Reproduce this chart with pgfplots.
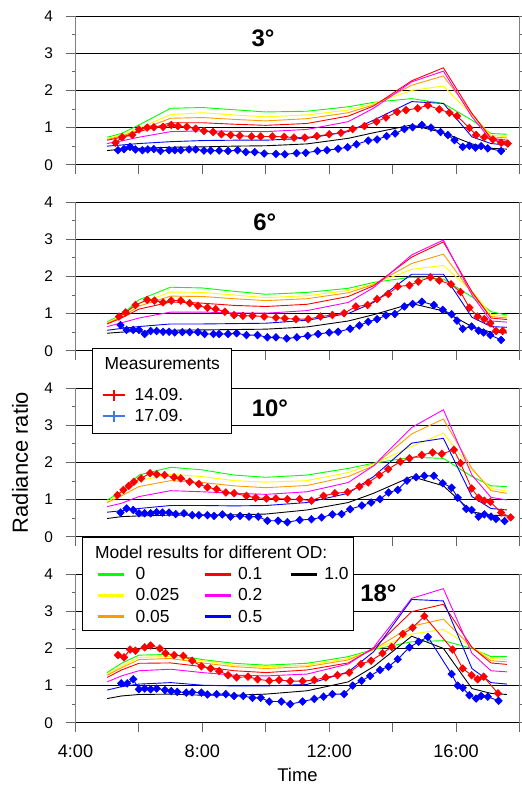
\documentclass[border=0pt]{standalone}
\usepackage{fontspec}
\setmainfont{Liberation Sans}
\usepackage{pgfplots}
\pgfplotsset{compat=1.18}
\usepackage{pgfplotstable}

\definecolor{mgreen}{RGB}{0,255,0}
\definecolor{myellow}{RGB}{255,255,0}
\definecolor{morange}{RGB}{255,153,0}
\definecolor{mred}{RGB}{255,0,0}
\definecolor{mmag}{RGB}{255,0,255}
\definecolor{mblue}{RGB}{0,0,255}
\definecolor{lblue}{RGB}{58,123,232}

% model results: t, OD 0, 0.025, 0.05, 0.1, 0.2, 0.5, 1.0
\pgfplotstableread{
t g y o r m b k
5.0 0.74 0.71 0.68 0.66 0.57 0.50 0.38
5.45 0.84 0.80 0.77 0.74 0.64 0.53 0.42
6.0 1.07 0.98 0.93 0.89 0.74 0.57 0.44
7.0 1.52 1.35 1.25 1.13 0.89 0.62 0.47
8.0 1.54 1.40 1.27 1.13 0.91 0.65 0.48
9.0 1.48 1.34 1.22 1.09 0.90 0.66 0.50
10.0 1.42 1.29 1.18 1.06 0.89 0.66 0.51
11.3 1.44 1.34 1.24 1.11 0.95 0.71 0.56
12.6 1.56 1.47 1.40 1.31 1.16 0.89 0.71
13.4 1.68 1.65 1.61 1.58 1.52 1.20 0.86
14.6 1.78 2.00 2.14 2.26 2.23 1.70 1.07
15.6 1.65 2.12 2.39 2.61 2.52 1.65 0.86
16.5 1.20 1.34 1.38 1.38 1.29 0.75 0.56
17.1 0.84 0.80 0.75 0.71 0.66 0.57 0.44
17.6 0.82 0.75 0.72 0.66 0.62 0.53 0.42
}\modelA
\pgfplotstableread{
t g y o r m b k
5.0 0.78 0.76 0.74 0.72 0.65 0.55 0.47
5.45 0.96 0.93 0.90 0.88 0.75 0.60 0.50
6.0 1.37 1.27 1.20 1.12 0.88 0.65 0.52
7.0 1.71 1.58 1.47 1.31 1.04 0.72 0.55
8.0 1.69 1.57 1.46 1.28 1.04 0.72 0.56
9.0 1.60 1.50 1.40 1.22 1.02 0.73 0.57
10.0 1.52 1.43 1.35 1.19 1.01 0.74 0.58
11.3 1.57 1.48 1.40 1.25 1.08 0.82 0.64
12.6 1.68 1.62 1.56 1.46 1.30 1.00 0.80
13.4 1.84 1.80 1.78 1.75 1.70 1.30 0.97
14.6 1.98 2.19 2.35 2.52 2.58 2.06 1.27
15.6 1.93 2.30 2.60 2.93 2.98 2.06 1.07
16.5 1.45 1.60 1.55 1.59 1.50 0.90 0.65
17.1 1.05 0.98 0.92 0.88 0.80 0.65 0.50
17.6 0.96 0.92 0.88 0.84 0.77 0.63 0.48
}\modelB
\pgfplotstableread{
t g y o m b k
5.0 0.99 0.94 0.92 0.81 0.66 0.49
5.45 1.21 1.17 1.10 0.90 0.70 0.54
6.0 1.66 1.51 1.35 1.08 0.76 0.56
7.0 1.87 1.68 1.51 1.24 0.84 0.58
8.0 1.80 1.62 1.46 1.21 0.84 0.58
9.0 1.66 1.51 1.37 1.17 0.83 0.59
10.0 1.60 1.47 1.32 1.14 0.84 0.61
11.3 1.66 1.51 1.38 1.21 0.92 0.72
12.6 1.84 1.73 1.62 1.46 1.17 0.92
13.4 1.98 1.96 1.91 1.91 1.62 1.17
14.6 2.14 2.43 2.77 2.94 2.52 1.62
15.6 2.11 2.79 3.17 3.42 2.65 1.37
16.5 1.62 1.80 1.84 1.66 1.08 0.67
17.1 1.37 1.30 1.24 1.06 0.76 0.58
17.6 1.35 1.23 1.17 0.99 0.72 0.56
}\modelC
\pgfplotstableread{
t g y o r m b k
5.0 1.35 1.31 1.28 1.22 1.10 0.88 0.65
5.45 1.60 1.52 1.48 1.42 1.26 0.97 0.72
6.0 1.82 1.76 1.70 1.60 1.40 1.04 0.76
7.0 1.84 1.78 1.73 1.61 1.44 1.08 0.77
8.0 1.70 1.67 1.61 1.51 1.35 1.01 0.74
9.0 1.60 1.55 1.51 1.40 1.28 0.99 0.74
10.0 1.55 1.51 1.46 1.35 1.26 0.99 0.77
11.3 1.60 1.55 1.51 1.42 1.31 1.03 0.86
12.6 1.78 1.73 1.69 1.61 1.58 1.37 1.10
13.4 1.97 1.97 1.97 2.00 2.03 1.91 1.51
14.6 2.18 2.39 2.60 2.99 3.35 3.32 2.33
15.6 2.21 2.51 2.79 3.19 3.61 3.28 2.00
16.5 2.00 2.03 2.03 2.03 1.87 1.46 0.92
17.1 1.78 1.73 1.67 1.61 1.40 1.08 0.79
17.6 1.78 1.70 1.64 1.57 1.37 1.04 0.76
}\modelD

% measurements
\pgfplotstableread{
t v
5.26 0.59
5.47 0.74
5.79 0.80
6.0 0.95
6.26 1.0
6.47 1.01
6.76 1.02
7.02 1.07
7.23 1.04
7.51 1.02
7.79 0.97
8.05 0.91
8.34 0.88
8.6 0.82
8.89 0.80
9.18 0.78
9.55 0.76
9.84 0.76
10.21 0.76
10.58 0.75
10.89 0.73
11.23 0.73
11.61 0.77
12.0 0.82
12.37 0.86
12.74 0.96
13.11 1.04
13.49 1.16
13.79 1.27
14.14 1.42
14.42 1.47
14.79 1.52
15.11 1.60
15.47 1.49
15.79 1.40
16.03 1.31
16.42 0.99
16.63 0.80
16.89 0.74
17.16 0.68
17.42 0.59
17.63 0.57
}\redA
\pgfplotstableread{
t v
5.34 0.39
5.53 0.42
5.72 0.48
5.89 0.41
6.11 0.39
6.28 0.41
6.47 0.42
6.68 0.37
6.95 0.39
7.13 0.39
7.32 0.39
7.58 0.41
7.79 0.41
8.05 0.38
8.26 0.38
8.53 0.38
8.81 0.37
9.11 0.39
9.37 0.34
9.65 0.34
9.95 0.30
10.32 0.29
10.6 0.28
10.97 0.31
11.26 0.32
11.63 0.37
11.93 0.39
12.28 0.43
12.58 0.47
12.86 0.55
13.23 0.65
13.51 0.68
13.81 0.77
14.08 0.84
14.37 0.96
14.63 1.01
14.92 1.07
15.21 1.00
15.51 0.88
15.74 0.80
15.95 0.66
16.21 0.48
16.42 0.51
16.61 0.46
16.79 0.50
17.0 0.44
17.42 0.37
}\blueA
\pgfplotstableread{
t v
5.37 0.92
5.58 1.03
5.89 1.23
6.26 1.37
6.49 1.35
6.76 1.30
7.02 1.35
7.32 1.35
7.6 1.28
7.86 1.21
8.16 1.16
8.42 1.12
8.71 1.05
9.0 0.96
9.28 0.94
9.58 0.94
9.95 0.92
10.32 0.89
10.6 0.87
10.95 0.85
11.34 0.85
11.72 0.92
12.1 0.96
12.47 1.01
12.84 1.19
13.21 1.23
13.51 1.39
13.86 1.53
14.16 1.73
14.53 1.76
14.81 1.86
15.19 1.98
15.47 1.89
15.84 1.79
16.14 1.58
16.42 1.16
16.68 0.92
16.89 0.85
17.08 0.74
17.26 0.53
17.47 0.53
}\redB
\pgfplotstableread{
t v
5.42 0.69
5.61 0.56
5.82 0.56
6.0 0.56
6.18 0.45
6.37 0.53
6.56 0.53
6.76 0.51
6.95 0.51
7.13 0.49
7.37 0.50
7.6 0.50
7.86 0.50
8.07 0.45
8.35 0.45
8.53 0.45
8.81 0.45
9.08 0.47
9.39 0.42
9.74 0.42
10.05 0.36
10.32 0.36
10.66 0.33
10.98 0.36
11.32 0.40
11.65 0.45
12.0 0.49
12.28 0.51
12.66 0.59
12.95 0.68
13.23 0.78
13.51 0.85
13.79 0.95
14.07 0.99
14.37 1.19
14.63 1.26
14.92 1.32
15.3 1.23
15.58 1.10
15.86 0.98
16.03 0.81
16.21 0.59
16.49 0.65
16.71 0.54
16.87 0.49
17.08 0.42
17.42 0.29
}\blueB
\pgfplotstableread{
t v
5.32 1.12
5.51 1.26
5.68 1.37
5.84 1.48
6.07 1.57
6.35 1.71
6.56 1.68
6.81 1.66
7.11 1.60
7.32 1.57
7.6 1.48
7.89 1.42
8.16 1.33
8.45 1.28
8.74 1.19
9.0 1.17
9.39 1.10
9.68 1.05
10.02 1.03
10.32 1.03
10.68 1.01
11.07 1.01
11.44 0.97
11.82 1.10
12.18 1.17
12.58 1.20
12.95 1.35
13.23 1.46
13.58 1.66
13.86 1.82
14.24 2.02
14.53 2.11
14.92 2.20
15.26 2.27
15.55 2.23
15.93 2.34
16.14 1.98
16.49 1.30
16.71 1.05
16.89 0.97
17.08 0.94
17.42 0.65
17.72 0.52
}\redC
\pgfplotstableread{
t v
5.42 0.65
5.61 0.76
5.82 0.72
6.0 0.63
6.18 0.63
6.37 0.63
6.56 0.66
6.74 0.65
6.95 0.65
7.16 0.61
7.42 0.63
7.68 0.58
7.89 0.58
8.16 0.58
8.37 0.56
8.63 0.60
8.89 0.54
9.19 0.56
9.47 0.54
9.76 0.54
10.05 0.43
10.39 0.43
10.68 0.39
11.07 0.45
11.44 0.47
11.76 0.52
12.1 0.60
12.39 0.61
12.66 0.74
13.03 0.84
13.32 0.92
13.6 1.01
13.87 1.19
14.16 1.26
14.45 1.51
14.74 1.60
15.0 1.64
15.3 1.64
15.58 1.44
15.86 1.32
16.05 1.05
16.32 0.75
16.49 0.72
16.71 0.54
16.89 0.60
17.1 0.54
17.26 0.48
17.53 0.42
}\blueC
\pgfplotstableread{
t v
5.34 1.82
5.53 1.76
5.72 1.97
5.89 1.94
6.18 2.03
6.37 2.08
6.66 2.00
6.84 1.87
7.11 1.82
7.40 1.80
7.68 1.67
7.97 1.52
8.26 1.46
8.53 1.39
8.81 1.28
9.08 1.22
9.44 1.24
9.74 1.17
10.11 1.13
10.42 1.15
10.77 1.12
11.16 1.12
11.53 1.15
11.89 1.22
12.26 1.28
12.63 1.35
13.0 1.58
13.32 1.67
13.68 1.87
13.97 2.04
14.32 2.39
14.63 2.56
15.0 2.87
15.89 1.97
16.21 1.46
16.49 1.28
16.68 1.17
16.87 1.24
17.32 0.79
}\redD
\pgfplotstableread{
t v
5.44 1.06
5.63 1.06
5.82 1.17
6.0 0.90
6.18 0.92
6.37 0.90
6.56 0.92
6.82 0.88
7.02 0.85
7.21 0.83
7.49 0.81
7.68 0.82
7.97 0.81
8.16 0.76
8.45 0.77
8.74 0.77
9.0 0.72
9.29 0.72
9.58 0.67
9.84 0.67
10.11 0.57
10.49 0.57
10.77 0.50
11.16 0.57
11.53 0.64
11.82 0.70
12.1 0.77
12.47 0.77
12.74 1.00
13.02 1.13
13.29 1.26
13.6 1.42
13.87 1.51
14.16 1.71
14.53 2.03
14.82 2.18
15.11 2.31
15.86 1.31
16.05 1.00
16.21 0.94
16.42 0.74
16.63 0.65
16.79 0.72
17.0 0.70
17.34 0.59
}\blueD

\tikzset{ttl/.style={font=\fontsize{24}{28}\selectfont\bfseries}}
\pgfplotsset{
  panel/.style={
    scale only axis, width=444bp, height=148.5bp,
    xmin=4, xmax=18, ymin=0, ymax=4,
    separate axis lines,
    x axis line style={draw=black, line width=1.3bp},
    y axis line style={draw=black!50, line width=1.6bp},
    xtick={4,6,...,18}, xticklabels={},
    xtick pos=left,
    ytick={0,1,2,3,4}, minor ytick={0.5,1.5,2.5,3.5},
    tick align=outside,
    major tick length=9bp, minor tick length=3bp,
    tick style={black!60, line width=1bp},
    ymajorgrids, grid style={black, line width=0.8bp},
    /pgf/number format/assume math mode=true,
    yticklabel style={font=\fontsize{15.5}{18}\selectfont, xshift=-10bp},
    xticklabel style={font=\fontsize{18.2}{21}\selectfont, yshift=-10bp},
  },
  mod/.style={line width=0.9bp, forget plot},
  meas/.style={line width=0.9bp, mark=diamond*, mark size=3.8bp,
    mark options={xscale=1.3, line width=0.6bp}, forget plot},
  % model legend images: col 1 / col 2-3, and bottom-row variants
  mlineA/.style={legend image code/.code={\path[draw=none,fill=none] (-15bp,0bp) -- (38bp,0bp); \draw[##1, line width=2.8bp] (0bp,0bp) -- (26bp,0bp);}},
  mlineB/.style={legend image code/.code={\path[draw=none,fill=none] (0bp,0bp) -- (33bp,0bp); \draw[##1, line width=2.8bp] (0bp,0bp) -- (26bp,0bp);}},
  mlineAl/.style={legend image code/.code={\path[draw=none,fill=none] (-15bp,-12bp) rectangle (38bp,0bp); \draw[##1, line width=2.8bp] (0bp,0bp) -- (26bp,0bp);}},
  mlineBl/.style={legend image code/.code={\path[draw=none,fill=none] (0bp,-12bp) rectangle (33bp,0bp); \draw[##1, line width=2.8bp] (0bp,0bp) -- (26bp,0bp);}},
  % measurement legend images
  mplus/.style={legend image code/.code={\path[draw=none,fill=none] (-10bp,0bp) -- (32bp,0bp); \draw[##1, line width=2.1bp] (0bp,0bp) -- (22bp,0bp); \draw[##1, line width=2.1bp] (11bp,-5.5bp) -- (11bp,5.5bp);}},
  mplusl/.style={legend image code/.code={\path[draw=none,fill=none] (-10bp,-15bp) rectangle (32bp,0bp); \draw[##1, line width=2.1bp] (0bp,0bp) -- (22bp,0bp); \draw[##1, line width=2.1bp] (11bp,-5.5bp) -- (11bp,5.5bp);}},
  tspace/.style={legend image code/.code={\path[draw=none,fill=none] (0bp,-21bp) -- (0bp,0bp);}},
  lgd/.style={draw=black, line width=1.3bp, fill=white, inner xsep=0pt,
    nodes={inner xsep=0pt}, column sep=0pt, row sep=3.5bp,
    font=\fontsize{17.5}{21}\selectfont, cells={anchor=west}},
}

\begin{document}
\begin{tikzpicture}
\path[use as bounding box] (0,0) rectangle (522bp,785bp);

% ---------- panel 1 (3 deg)
\begin{axis}[panel, at={(75.5bp,620.3bp)}, anchor=south west]
\addplot[mod, mgreen] table[x=t,y=g]{\modelA};
\addplot[mod, myellow] table[x=t,y=y]{\modelA};
\addplot[mod, morange] table[x=t,y=o]{\modelA};
\addplot[mod, mred] table[x=t,y=r]{\modelA};
\addplot[mod, mmag] table[x=t,y=m]{\modelA};
\addplot[mod, mblue] table[x=t,y=b]{\modelA};
\addplot[mod, black] table[x=t,y=k]{\modelA};
\addplot[meas, mred] table[x=t,y=v]{\redA};
\addplot[meas, mblue] table[x=t,y=v]{\blueA};
\node[ttl] at (axis cs:9.91,3.41) {3°};
\end{axis}

% ---------- panel 3 (10 deg)
\begin{axis}[panel, at={(75.5bp,248.3bp)}, anchor=south west,
  ylabel={Radiance ratio},
  ylabel style={at={(axis description cs:-0.125,0.5)}, anchor=center, font=\fontsize{22}{25}\selectfont}]
\addplot[mod, mgreen] table[x=t,y=g]{\modelC};
\addplot[mod, myellow] table[x=t,y=y]{\modelC};
\addplot[mod, morange] table[x=t,y=o]{\modelC};
\addplot[mod, mmag] table[x=t,y=m]{\modelC};
\addplot[mod, mblue] table[x=t,y=b]{\modelC};
\addplot[mod, black] table[x=t,y=k]{\modelC};
\addplot[meas, mred] table[x=t,y=v]{\redC};
\addplot[meas, mblue] table[x=t,y=v]{\blueC};
\node[ttl] at (axis cs:10.13,3.47) {10°};
\end{axis}

% ---------- panel 2 (6 deg)
\begin{axis}[panel, at={(75.5bp,434.3bp)}, anchor=south west,
  legend style={lgd, at={(axis description cs:0.0372,0.018)}, anchor=north west}]
\addplot[mod, mgreen] table[x=t,y=g]{\modelB};
\addplot[mod, myellow] table[x=t,y=y]{\modelB};
\addplot[mod, morange] table[x=t,y=o]{\modelB};
\addplot[mod, mred] table[x=t,y=r]{\modelB};
\addplot[mod, mmag] table[x=t,y=m]{\modelB};
\addplot[mod, mblue] table[x=t,y=b]{\modelB};
\addplot[mod, black] table[x=t,y=k]{\modelB};
\addplot[meas, mred] table[x=t,y=v]{\redB};
\addplot[meas, mblue] table[x=t,y=v]{\blueB};
\node[ttl] at (axis cs:9.97,3.45) {6°};
\addlegendimage{tspace}
\addlegendentry{\makebox[97bp][l]{\hspace*{-30bp}\rule{0pt}{17bp}Measurements}}
\addlegendimage{mplus, mred}
\addlegendentry{14.09.}
\addlegendimage{mplusl, lblue}
\addlegendentry{17.09.}
\end{axis}

% ---------- panel 4 (18 deg)
\begin{axis}[panel, at={(75.5bp,62.3bp)}, anchor=south west,
  xticklabels={4:00,,8:00,,12:00,,16:00,},
  xlabel={Time},
  xlabel style={at={(axis description cs:0.5,0)}, anchor=center, yshift=-52.3bp, font=\fontsize{18.5}{22}\selectfont},
  legend columns=3,
  legend style={lgd, at={(axis description cs:0.0146,1.2505)}, anchor=north west}]
\addplot[mod, mgreen] table[x=t,y=g]{\modelD};
\addplot[mod, myellow] table[x=t,y=y]{\modelD};
\addplot[mod, morange] table[x=t,y=o]{\modelD};
\addplot[mod, mred] table[x=t,y=r]{\modelD};
\addplot[mod, mmag] table[x=t,y=m]{\modelD};
\addplot[mod, mblue] table[x=t,y=b]{\modelD};
\addplot[mod, black] table[x=t,y=k]{\modelD};
\addplot[meas, mred] table[x=t,y=v]{\redD};
\addplot[meas, mblue] table[x=t,y=v]{\blueD};
\node[ttl] at (axis cs:13.55,3.48) {18°};
\addlegendimage{empty legend}
\addlegendentry{\makebox[0pt][l]{\hspace*{-41bp}\rule{0pt}{17bp}Model results for different OD:}}
\addlegendimage{empty legend}
\addlegendentry{}
\addlegendimage{empty legend}
\addlegendentry{}
\addlegendimage{mlineA, mgreen}
\addlegendentry{\makebox[68bp][l]{0}}
\addlegendimage{mlineB, mred}
\addlegendentry{\makebox[52bp][l]{0.1}}
\addlegendimage{mlineB, black}
\addlegendentry{\makebox[29bp][l]{1.0}}
\addlegendimage{mlineA, myellow}
\addlegendentry{0.025}
\addlegendimage{mlineB, mmag}
\addlegendentry{0.2}
\addlegendimage{empty legend}
\addlegendentry{}
\addlegendimage{mlineAl, morange}
\addlegendentry{0.05}
\addlegendimage{mlineBl, mblue}
\addlegendentry{0.5}
\end{axis}
\end{tikzpicture}
\end{document}
